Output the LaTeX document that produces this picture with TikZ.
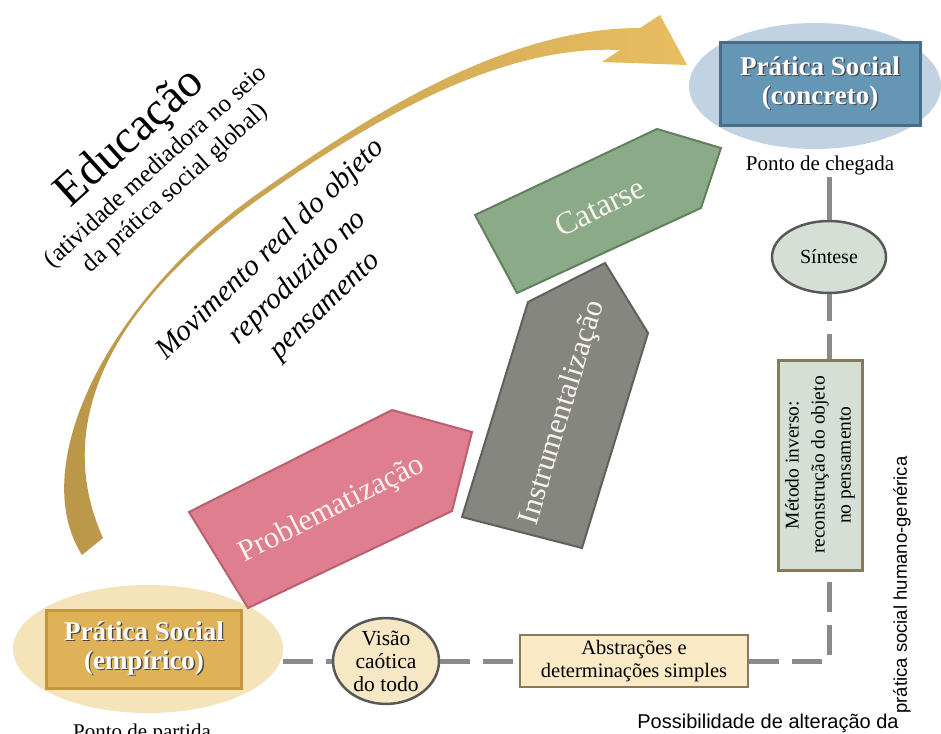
\documentclass[tikz,border=0pt]{standalone}
\usepackage{fontspec}
\setmainfont{Liberation Serif}
\newfontfamily\sansfont{Liberation Sans}
\usepackage{tikz}
\usetikzlibrary{shapes.geometric, arrows}

\definecolor{ouroesc}{RGB}{183,148,72}
\definecolor{ouroclr}{RGB}{233,190,98}
\definecolor{azulov}{RGB}{193,211,226}
\definecolor{azulcx}{RGB}{101,150,182}
\definecolor{azulbd}{RGB}{72,108,138}
\definecolor{trigoov}{RGB}{245,227,186}
\definecolor{ourocx}{RGB}{224,178,88}
\definecolor{ourobd}{RGB}{196,150,62}
\definecolor{rosa}{RGB}{223,126,142}
\definecolor{rosabd}{RGB}{186,96,112}
\definecolor{cinzaet}{RGB}{134,134,129}
\definecolor{cinzabd}{RGB}{96,96,92}
\definecolor{verde}{RGB}{139,170,136}
\definecolor{verdebd}{RGB}{98,128,96}
\definecolor{salvia}{RGB}{214,223,214}
\definecolor{creme}{RGB}{246,231,197}
\definecolor{cremecx}{RGB}{250,234,198}
\definecolor{marrombd}{RGB}{135,122,92}
\definecolor{cinzalin}{RGB}{138,138,138}
\definecolor{contorno}{RGB}{88,88,88}
\definecolor{textoetapa}{RGB}{248,242,240}

\newcommand{\fsz}[2]{\fontsize{#1}{#2}\selectfont}
\newcommand{\sombra}[1]{\leavevmode\rlap{\raisebox{-1.4pt}{\hspace{1.4pt}\textcolor{black!70}{#1}}}#1}

\tikzstyle{oval} = [ellipse, draw=none, inner sep=0pt]
\tikzstyle{caixa} = [rectangle, text centered, align=center, inner sep=0pt]
\tikzstyle{titulo} = [caixa, text=white, line width=3pt, font=\fsz{27}{29}\bfseries]
\tikzstyle{bolha} = [ellipse, draw=contorno, line width=2.5pt, align=center, inner sep=0pt]
\tikzstyle{etapa} = [text=textoetapa, font=\fsz{30.5}{34}]
\tikzstyle{rotulo} = [font=\fsz{21}{24}, inner sep=2pt]
\tikzstyle{linha} = [line width=5pt, draw=cinzalin]
\tikzstyle{tracejada} = [linha, dash pattern=on 30pt off 13pt]

\begin{document}
\begin{tikzpicture}[x=1pt, y=-1pt]

  \useasboundingbox [fill=white] (0,0) rectangle (941,733);

  % arco dourado da educacao
  \shade [left color=ouroesc, middle color=ouroesc!55!ouroclr, right color=ouroclr]
    (82,555) .. controls (25,465) and (110,297) .. (260,192)
    .. controls (360,122) and (500,28) .. (640,28)
    -- (660,15) -- (687,65) -- (602,62) -- (620,50)
    .. controls (510,45) and (390,107) .. (263,196)
    .. controls (115,300) and (50,420) .. (103,538) -- cycle;

  \node (educ) [rotate=42, align=center, font=\fsz{25}{29}] at (150,160)
    {{\fsz{47}{47}Educação}\\[4pt](atividade mediadora no seio\\da prática social global)};
  \node (movim) [rotate=44, align=center, font=\fsz{29.5}{39}\itshape] at (298,278)
    {Movimento real do objeto\\reproduzido no\\pensamento};

  % ponto de chegada
  \node (concell) [oval, fill=azulov, minimum width=252pt, minimum height=126pt] at (815,86) {};
  \node (concreto) [titulo, fill=azulcx, draw=azulbd, minimum width=200pt, minimum height=82pt] at (820,84)
    {\sombra{Prática Social}\\\sombra{(concreto)}};
  \node (chegada) [rotulo] at (820,165) {Ponto de chegada};

  % ponto de partida
  \node (empell) [oval, fill=trigoov, minimum width=270pt, minimum height=128pt] at (148,649) {};
  \node (empirico) [titulo, fill=ourocx, draw=ourobd, minimum width=195pt, minimum height=78pt] at (144,649)
    {\sombra{Prática Social}\\\sombra{(empírico)}};
  \node (partida) [rotulo, anchor=base] at (142,738) {Ponto de partida};

  % etapas
  \filldraw [fill=rosa, draw=rosabd, line width=2pt]
    (189,512) -- (392,410) -- (472,432) -- (452,511) -- (248,608) -- cycle;
  \node (probl) [etapa, rotate=27] at (332,510) {Problematização};

  \filldraw [fill=cinzaet, draw=cinzabd, line width=2pt]
    (462,517) -- (528,302) -- (605,263) -- (648,333) -- (582,548) -- cycle;
  \node (instr) [etapa, rotate=73] at (563,413) {Instrumentalização};

  \filldraw [fill=verde, draw=verdebd, line width=2pt]
    (475,215) -- (657,129) -- (721,148) -- (701,208) -- (517,293) -- cycle;
  \node (catarse) [etapa, rotate=26, font=\fsz{32}{34}] at (600,207) {Catarse};

  % metodo inverso
  \node (sintese) [bolha, fill=salvia, minimum width=114pt, minimum height=72pt, font=\fsz{20}{22}] at (829,257) {Síntese};
  \node (metodo) [caixa, fill=salvia, draw=marrombd, line width=3pt, minimum width=84pt, minimum height=210pt] at (820,465) {};
  \node [rotate=90, align=center, font=\fsz{19.5}{26}] at (metodo.center)
    {Método inverso:\\reconstrução do objeto\\no pensamento};
  \node (visao) [bolha, fill=creme, minimum width=106pt, minimum height=84pt, font=\fsz{21.5}{23}] at (386,661)
    {Visão\\caótica\\do todo};
  \node (abstr) [caixa, fill=cremecx, draw=marrombd, line width=2.5pt, minimum width=228pt, minimum height=52pt, font=\fsz{20.5}{23}] at (634,661)
    {Abstrações e\\determinações simples};

  \draw [linha] (sintese.north) -- (sintese.north |- chegada.south);
  \draw [tracejada, dash pattern=on 27pt off 13pt] (sintese.south) -- (sintese.south |- metodo.north);
  \draw [tracejada] (abstr.east) -| (metodo.south -| sintese.south);
  \draw [tracejada] (visao.east) -- (abstr.west);
  \draw [tracejada] (visao.west -| empell.east) -- (visao.west);

  \node (possib) [anchor=base, font=\sansfont\fsz{20}{22}] at (768,728) {Possibilidade de alteração da};
  \node (generica) [rotate=90, font=\sansfont\fsz{18.5}{22}] at (902,585) {prática social humano-genérica};

\end{tikzpicture}
\end{document}
